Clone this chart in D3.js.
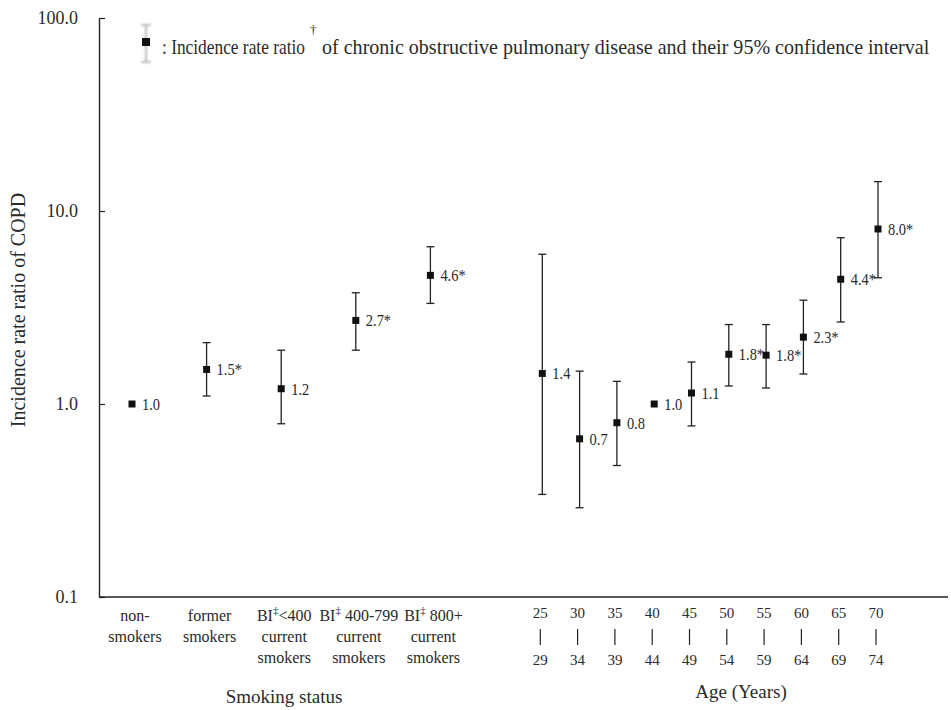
<!DOCTYPE html>
<html>
<head>
<meta charset="utf-8">
<script src="https://cdn.jsdelivr.net/npm/d3@7/dist/d3.min.js"></script>
<style>
  html, body { margin: 0; padding: 0; background: #fff; }
  svg { display: block; }
</style>
</head>
<body>
<svg id="chart" width="951" height="710"></svg>
<script>
// ---------------- data ----------------
const smokingCategories = ["non-\nsmokers", "former\nsmokers", "BI‡<400\ncurrent\nsmokers", "BI‡ 400-799\ncurrent\nsmokers", "BI‡ 800+\ncurrent\nsmokers"];
const smokingIRR   = [1.0, 1.51, 1.2, 2.71, 4.64];
const smokingLower = [null, 1.10, 0.79, 1.90, 3.32];
const smokingUpper = [null, 2.08, 1.90, 3.77, 6.53];
const smokingLabels = ["1.0", "1.5*", "1.2", "2.7*", "4.6*"];

const ageStart = [25, 30, 35, 40, 45, 50, 55, 60, 65, 70];
const ageEnd   = [29, 34, 39, 44, 49, 54, 59, 64, 69, 74];
const ageIRR   = [1.44, 0.66, 0.80, 1.0, 1.14, 1.81, 1.79, 2.22, 4.43, 8.07];
const ageLower = [0.34, 0.29, 0.48, null, 0.77, 1.24, 1.21, 1.43, 2.66, 4.51];
const ageUpper = [5.97, 1.48, 1.31, null, 1.65, 2.58, 2.58, 3.45, 7.27, 14.2];
const ageLabels = ["1.4", "0.7", "0.8", "1.0", "1.1", "1.8*", "1.8*", "2.3*", "4.4*", "8.0*"];

const yTickValues = [0.1, 1, 10, 100];
const yTickLabels = ["0.1", "1.0", "10.0", "100.0"];

const yTitle = "Incidence rate ratio of COPD";
const xTitleSmoking = "Smoking status";
const xTitleAge = "Age (Years)";
const legendPart1 = ": Incidence rate ratio";
const legendMark = "†";
const legendPart2 = "of  chronic obstructive pulmonary disease and their 95% confidence interval";

// ---------------- layout ----------------
const FONT = "'Liberation Serif', 'Times New Roman', serif";
const TXT = "#2a2a2a";
const svg = d3.select("#chart");
const axisX = 99, axisTop = 18, axisBottom = 597, axisRight = 948;
const ink = "#222";

const y = d3.scaleLog().domain([0.1, 100]).range([axisBottom, axisTop]);
// slot positions: smoking categories on even slots 0..8, age groups on slots 11..20
const x = d3.scaleLinear().domain([0, 20]).range([132, 878]);

const smoking = smokingCategories.map((c, i) => ({
  cat: c, slot: i * 2, v: smokingIRR[i], lo: smokingLower[i], hi: smokingUpper[i], label: smokingLabels[i]
}));
const ages = ageStart.map((a, i) => ({
  a, b: ageEnd[i], slot: 11 + i, v: ageIRR[i], lo: ageLower[i], hi: ageUpper[i], label: ageLabels[i]
}));
const all = smoking.concat(ages);

function txt(parent) {
  return parent.append("text").attr("font-family", FONT).attr("fill", TXT);
}

// ---------------- axes ----------------
const yAxis = d3.axisLeft(y)
  .tickValues(yTickValues)
  .tickFormat((d, i) => yTickLabels[i])
  .tickSizeInner(-6)
  .tickSizeOuter(0)
  .tickPadding(21);

const gy = svg.append("g").attr("transform", `translate(${axisX},0)`).call(yAxis)
  .attr("font-family", FONT);
gy.select(".domain").attr("stroke", ink).attr("stroke-width", 1.4);
gy.selectAll(".tick line").attr("stroke", ink).attr("stroke-width", 1.2);
gy.selectAll(".tick text")
  .attr("font-family", FONT)
  .attr("font-size", 18).attr("fill", TXT);

// x baseline
svg.append("line")
  .attr("x1", axisX).attr("x2", axisRight)
  .attr("y1", axisBottom).attr("y2", axisBottom)
  .attr("stroke", ink).attr("stroke-width", 1.6);

// ---------------- error bars & points ----------------
const withCI = all.filter(d => d.lo != null);
const capW = 4;
const eb = svg.append("g").attr("stroke", ink).attr("stroke-width", 1.3);
eb.selectAll("line.v").data(withCI).join("line").attr("class", "v")
  .attr("x1", d => x(d.slot)).attr("x2", d => x(d.slot))
  .attr("y1", d => y(d.hi)).attr("y2", d => y(d.lo));
eb.selectAll("line.top").data(withCI).join("line").attr("class", "top")
  .attr("x1", d => x(d.slot) - capW).attr("x2", d => x(d.slot) + capW)
  .attr("y1", d => y(d.hi)).attr("y2", d => y(d.hi));
eb.selectAll("line.bot").data(withCI).join("line").attr("class", "bot")
  .attr("x1", d => x(d.slot) - capW).attr("x2", d => x(d.slot) + capW)
  .attr("y1", d => y(d.lo)).attr("y2", d => y(d.lo));

const sq = 7;
svg.append("g").selectAll("rect").data(all).join("rect")
  .attr("x", d => x(d.slot) - sq / 2).attr("y", d => y(d.v) - sq / 2)
  .attr("width", sq).attr("height", sq).attr("fill", "#111");

// value labels (slightly condensed serif)
svg.append("g").selectAll("text").data(all).join("text")
  .attr("font-family", FONT).attr("fill", TXT)
  .attr("transform", d => `translate(${x(d.slot) + 10},${y(d.v) + 6}) scale(0.85,1)`)
  .attr("font-size", 17)
  .text(d => d.label);

// ---------------- category labels ----------------
function addSupLine(textSel, line) {
  const parts = line.split("‡");
  textSel.append("tspan").text(parts[0]);
  if (parts.length > 1) {
    textSel.append("tspan").attr("font-size", 11).attr("dy", -7).text("‡");
    textSel.append("tspan").attr("dy", 7).text(parts[1]);
  }
}
const catG = svg.append("g");
smoking.forEach(d => {
  d.cat.split("\n").forEach((line, j) => {
    const t = txt(catG)
      .attr("x", x(d.slot) + 3).attr("y", 621 + j * 21)
      .attr("text-anchor", "middle").attr("font-size", 16);
    addSupLine(t, line);
  });
});
const ageG = svg.append("g");
ages.forEach(d => {
  const cx = x(d.slot) - 2;
  txt(ageG).attr("x", cx).attr("y", 618).attr("text-anchor", "middle")
    .attr("font-size", 15).text(d.a);
  ageG.append("line").attr("x1", cx).attr("x2", cx).attr("y1", 629).attr("y2", 645)
    .attr("stroke", ink).attr("stroke-width", 1.2);
  txt(ageG).attr("x", cx).attr("y", 665).attr("text-anchor", "middle")
    .attr("font-size", 15).text(d.b);
});

// axis titles
txt(svg).attr("x", 284).attr("y", 703).attr("text-anchor", "middle")
  .attr("font-size", 19).text(xTitleSmoking);
txt(svg).attr("x", 741).attr("y", 698).attr("text-anchor", "middle")
  .attr("font-size", 19).text(xTitleAge);
txt(svg)
  .attr("transform", "translate(25,310) rotate(-90)")
  .attr("text-anchor", "middle").attr("font-size", 20).text(yTitle);

// ---------------- legend ----------------
const defs = svg.append("defs");
defs.append("filter").attr("id", "blur").append("feGaussianBlur").attr("stdDeviation", 1.2);
const lg = svg.append("g");
lg.append("g").attr("filter", "url(#blur)").attr("stroke", "#bbb").attr("stroke-width", 2)
  .call(g => {
    g.append("line").attr("x1", 146).attr("x2", 146).attr("y1", 25).attr("y2", 62);
    g.append("line").attr("x1", 141).attr("x2", 151).attr("y1", 25).attr("y2", 25);
    g.append("line").attr("x1", 141).attr("x2", 151).attr("y1", 62).attr("y2", 62);
  });
lg.append("rect").attr("x", 142).attr("y", 38).attr("width", 8).attr("height", 8)
  .attr("fill", "#111");

// condensed legend text: scale horizontally to fit the measured span
function fitText(str, x0, x1, baseline, size) {
  const t = txt(lg).attr("font-size", size).text(str);
  const w = t.node().getComputedTextLength();
  const s = (x1 - x0) / w;
  t.attr("transform", `translate(${x0},${baseline}) scale(${s},1)`);
  return t;
}
fitText(legendPart1, 162, 305, 54, 21);
txt(lg).attr("x", 310).attr("y", 34).attr("font-size", 13).text(legendMark);
fitText(legendPart2, 322, 930, 54, 21);
</script>
</body>
</html>
